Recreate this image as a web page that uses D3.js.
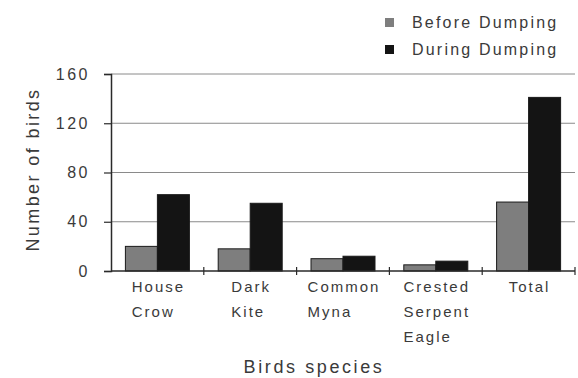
<!DOCTYPE html>
<html>
<head>
<meta charset="utf-8">
<script src="https://cdn.jsdelivr.net/npm/d3@7"></script>
<style>
  body { margin: 0; background: #fff; }
  text { font-family: "Liberation Sans", Arial, sans-serif; fill: #3a3a3a; }
</style>
</head>
<body>
<svg></svg>
<script>
// Data
const species = [["House", "Crow"], ["Dark", "Kite"], ["Common", "Myna"], ["Crested", "Serpent", "Eagle"], ["Total"]];
const seriesNames = ["Before Dumping", "During Dumping"];
const before = [20, 18, 10, 5, 56];
const during = [62, 55, 12, 8, 141];
const yTicks = [0, 40, 80, 120, 160];
const colors = ["#7e7e7e", "#141414"];

// Sizes
const W = 578, H = 378;
const margin = { t: 74, b: 107, l: 111, r: 3 };
const width = W - margin.l - margin.r;
const height = H - margin.t - margin.b;

const svg = d3.select("svg")
  .attr("width", W)
  .attr("height", H)
  .append("g")
    .attr("transform", `translate(${margin.l}, ${margin.t})`);

// Scales
const keys = species.map(d => d.join(" "));
const x0 = d3.scaleBand()
  .domain(keys)
  .range([0, width])
  .padding(0);

const x1 = d3.scaleBand()
  .domain(seriesNames)
  .range([0, x0.bandwidth()])
  .paddingInner(0)
  .paddingOuter(0.45);

const yScale = d3.scaleLinear()
  .domain([0, 160])
  .range([height, 0]);

// Grid
svg.append("g")
  .selectAll("line")
  .data(yTicks.slice(1))
  .join("line")
    .attr("x1", 0)
    .attr("x2", width)
    .attr("y1", d => yScale(d))
    .attr("y2", d => yScale(d))
    .attr("stroke", "#8a8a8a")
    .attr("stroke-width", 1);

// Bars
const rows = keys.map((k, i) => ({ key: k, values: [before[i], during[i]] }));
svg.append("g")
  .selectAll("g")
  .data(rows)
  .join("g")
    .attr("transform", d => `translate(${x0(d.key)}, 0)`)
  .selectAll("rect")
  .data(d => d.values.map((v, j) => ({ name: seriesNames[j], v, j })))
  .join("rect")
    .attr("x", d => x1(d.name))
    .attr("y", d => yScale(d.v))
    .attr("width", x1.bandwidth())
    .attr("height", d => height - yScale(d.v))
    .attr("fill", d => colors[d.j])
    .attr("stroke", "#1a1a1a")
    .attr("stroke-width", 1);

// y axis
const yAxis = svg.append("g")
  .call(d3.axisLeft(yScale).tickValues(yTicks).tickSize(7).tickPadding(14));
yAxis.select(".domain").attr("stroke", "#2a2a2a").attr("stroke-width", 1.5);
yAxis.selectAll(".tick line").attr("stroke", "#2a2a2a").attr("stroke-width", 1.2);
yAxis.selectAll("text")
  .attr("font-size", 16)
  .attr("letter-spacing", 2.5)
  .attr("fill", "#3a3a3a")
  .style("font-family", "'Liberation Sans', Arial, sans-serif");

// x axis line and boundary ticks
const xAxis = svg.append("g").attr("transform", `translate(0, ${height})`);
xAxis.append("line")
  .attr("x1", 0).attr("x2", width)
  .attr("stroke", "#2a2a2a").attr("stroke-width", 1.5);
xAxis.selectAll(".bt")
  .data(keys)
  .join("line")
    .attr("class", "bt")
    .attr("x1", d => x0(d) + x0.bandwidth())
    .attr("x2", d => x0(d) + x0.bandwidth())
    .attr("y1", -4).attr("y2", 4)
    .attr("stroke", "#2a2a2a").attr("stroke-width", 1.2);

// category labels, lines left-aligned in a block centred on the band
species.forEach((lines, i) => {
  const g = xAxis.append("g");
  const t = g.selectAll("text")
    .data(lines)
    .join("text")
      .attr("y", (d, k) => 21 + k * 25)
      .attr("font-size", 15)
      .attr("letter-spacing", 2)
      .text(d => d);
  const w = d3.max(t.nodes(), n => n.getComputedTextLength());
  g.attr("transform", `translate(${x0(keys[i]) + x0.bandwidth() / 2 - w / 2 + 1}, 0)`);
});

// axis titles
svg.append("text")
  .attr("transform", `translate(${-72}, ${height / 2 - 3}) rotate(-90)`)
  .attr("text-anchor", "middle")
  .attr("font-size", 18)
  .attr("letter-spacing", 2.4)
  .text("Number of birds");

svg.append("text")
  .attr("x", 203)
  .attr("y", height + 102)
  .attr("text-anchor", "middle")
  .attr("font-size", 18)
  .attr("letter-spacing", 2.6)
  .text("Birds species");

// Legend
const legend = d3.select("svg").append("g")
  .attr("transform", "translate(385, 18)");
const li = legend.selectAll("g")
  .data(seriesNames)
  .join("g")
    .attr("transform", (d, i) => `translate(0, ${i * 27})`);
li.append("rect")
  .attr("width", 9).attr("height", 9)
  .attr("fill", (d, i) => colors[i]);
li.append("text")
  .attr("x", 27)
  .attr("y", 10)
  .attr("font-size", 16)
  .attr("letter-spacing", 2.2)
  .text(d => d);
</script>
</body>
</html>
